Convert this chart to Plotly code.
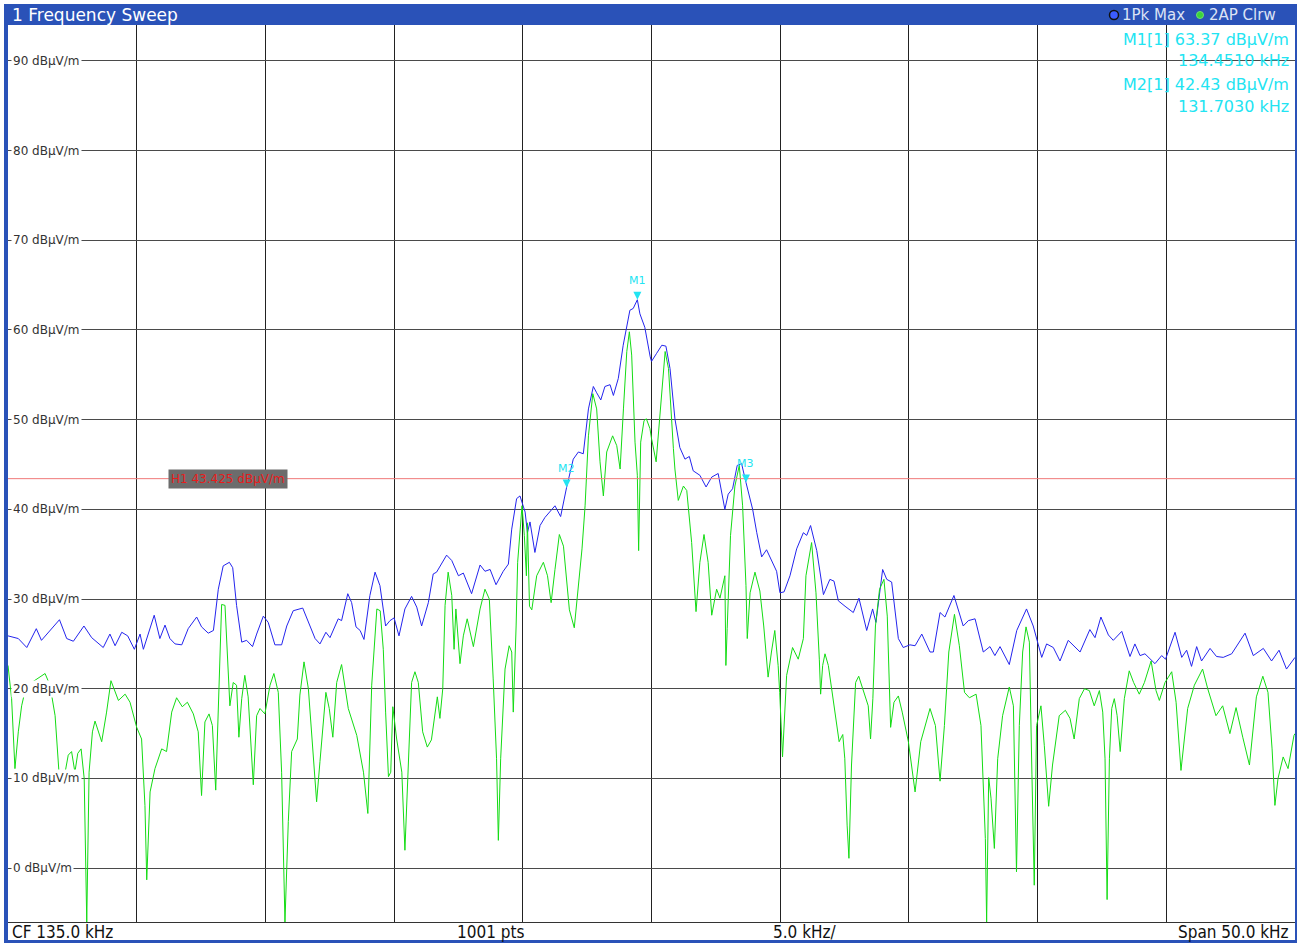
import plotly.graph_objects as go

# ---------------- data ----------------
freq_maxhold = [
    110.00, 110.40, 110.73, 111.10, 111.30, 111.57, 112.00, 112.28, 112.54, 112.95,
    113.25, 113.70, 113.96, 114.16, 114.42, 114.65, 114.91, 115.13, 115.26, 115.68,
    115.90, 116.10, 116.29, 116.49, 116.75, 117.00, 117.33, 117.52, 117.78, 117.98,
    118.17, 118.36, 118.60, 118.73, 118.88, 119.08, 119.27, 119.50, 119.66, 119.92,
    120.11, 120.37, 120.63, 120.83, 121.08, 121.45, 121.67, 121.93, 122.12, 122.35,
    122.51, 122.83, 122.96, 123.20, 123.35, 123.52, 123.68, 123.83, 124.06, 124.26,
    124.45, 124.67, 124.84, 125.00, 125.19, 125.42, 125.68, 125.88, 126.07, 126.33,
    126.52, 126.65, 127.04, 127.24, 127.50, 127.69, 128.01, 128.34, 128.53, 128.73,
    128.96, 129.24, 129.44, 129.57, 129.76, 129.89, 130.09, 130.18, 130.28, 130.47,
    130.67, 130.86, 131.25, 131.47, 131.70, 131.96, 132.16, 132.35, 132.55, 132.74,
    132.87, 133.03, 133.19, 133.39, 133.52, 133.71, 133.90, 134.16, 134.29, 134.45,
    134.55, 134.74, 134.95, 135.00, 135.20, 135.40, 135.56, 135.72, 135.91, 136.10,
    136.30, 136.47, 136.62, 136.88, 137.12, 137.34, 137.59, 137.85, 137.98, 138.15,
    138.33, 138.50, 138.67, 138.93, 139.09, 139.28, 139.47, 139.71, 139.86, 139.99,
    140.15, 140.38, 140.64, 140.90, 141.03, 141.18, 141.42, 141.68, 141.93, 142.09,
    142.26, 142.52, 142.84, 143.06, 143.36, 143.59, 143.72, 143.98, 144.14, 144.33,
    144.59, 144.78, 145.04, 145.24, 145.50, 145.82, 145.95, 146.21, 146.40, 146.75,
    147.11, 147.31, 147.57, 147.89, 148.15, 148.34, 148.54, 148.90, 149.19, 149.57,
    149.83, 150.16, 150.35, 150.61, 150.87, 151.19, 151.45, 151.65, 152.03, 152.23,
    152.46, 152.75, 152.94, 153.27, 153.59, 153.78, 153.98, 154.17, 154.56, 154.82,
    154.97, 155.34, 155.60, 155.79, 155.98, 156.18, 156.37, 156.70, 156.95, 157.21,
    157.54, 158.06, 158.38, 158.77, 159.09, 159.38, 159.67, 159.93, 160.00,
]
level_maxhold = [
    25.9, 25.6, 24.6, 26.7, 25.4, 26.3, 27.7, 25.6, 25.3, 27.0,
    25.7, 24.6, 26.1, 24.8, 26.3, 25.9, 24.4, 26.1, 24.4, 28.2,
    25.6, 27.1, 25.6, 25.0, 24.9, 26.7, 28.0, 26.9, 26.2, 26.5,
    31.1, 33.7, 34.1, 33.5, 29.3, 25.2, 25.4, 24.7, 26.1, 28.1,
    27.4, 24.9, 24.9, 27.0, 28.7, 29.0, 27.4, 25.6, 25.0, 26.3,
    25.7, 27.8, 27.6, 30.6, 29.6, 26.9, 26.5, 25.5, 30.4, 33.0,
    31.5, 27.0, 27.6, 27.9, 25.9, 28.9, 30.3, 29.1, 27.0, 29.6,
    32.8, 33.0, 34.9, 34.3, 32.6, 32.9, 30.6, 33.8, 33.1, 33.3,
    31.6, 33.1, 33.9, 37.8, 41.2, 41.5, 39.7, 37.4, 38.6, 35.2,
    38.2, 39.1, 40.4, 39.2, 42.43, 45.6, 46.4, 46.2, 51.2, 53.7,
    53.0, 52.2, 53.7, 53.9, 52.7, 54.6, 58.3, 62.2, 62.4, 63.37,
    61.8, 60.3, 57.0, 56.5, 57.4, 58.3, 58.2, 55.7, 50.1, 46.9,
    45.6, 45.9, 44.3, 43.8, 42.5, 43.6, 44.0, 40.0, 41.7, 42.3,
    44.9, 45.1, 43.0, 40.0, 37.4, 34.7, 35.5, 34.1, 33.1, 30.7,
    30.8, 32.6, 35.6, 37.4, 37.1, 38.2, 35.4, 30.5, 32.2, 32.0,
    29.8, 29.2, 28.5, 30.1, 26.5, 28.9, 27.4, 33.3, 32.2, 31.9,
    25.6, 24.6, 24.9, 24.8, 26.1, 24.1, 24.1, 28.5, 28.0, 30.4,
    27.0, 27.6, 27.8, 24.1, 24.7, 23.7, 24.7, 22.7, 26.5, 28.9,
    27.0, 23.5, 25.0, 24.6, 23.1, 25.4, 24.7, 24.1, 26.6, 25.7,
    28.0, 26.0, 25.4, 26.4, 23.6, 25.0, 23.7, 23.9, 22.8, 23.7,
    23.3, 26.3, 23.5, 24.3, 22.5, 24.7, 23.1, 24.5, 23.6, 23.5,
    23.9, 26.2, 23.7, 24.5, 23.1, 24.3, 22.2, 23.3, 23.5,
]

freq_clrw = [
    110.00, 110.14, 110.27, 110.40, 110.53, 110.73, 110.92, 111.12, 111.44, 111.63,
    111.83, 111.98, 112.15, 112.34, 112.47, 112.60, 112.71, 112.84, 112.96, 113.06,
    113.15, 113.28, 113.38, 113.64, 113.83, 114.00, 114.29, 114.55, 114.74, 115.00,
    115.19, 115.32, 115.39, 115.52, 115.71, 115.97, 116.16, 116.36, 116.55, 116.77,
    116.97, 117.20, 117.39, 117.52, 117.65, 117.81, 117.94, 118.07, 118.17, 118.30,
    118.43, 118.56, 118.62, 118.75, 118.88, 118.97, 119.08, 119.20, 119.33, 119.53,
    119.66, 119.79, 119.98, 120.18, 120.33, 120.50, 120.63, 120.76, 120.89, 121.02,
    121.24, 121.34, 121.50, 121.67, 121.84, 121.99, 122.12, 122.35, 122.48, 122.62,
    122.77, 122.96, 123.22, 123.55, 123.81, 123.98, 124.13, 124.33, 124.46, 124.58,
    124.67, 124.78, 124.87, 124.95, 125.10, 125.30, 125.42, 125.55, 125.68, 125.81,
    125.94, 126.11, 126.29, 126.45, 126.52, 126.68, 126.78, 126.89, 126.98, 127.10,
    127.24, 127.33, 127.40, 127.56, 127.69, 127.84, 128.08, 128.34, 128.53, 128.70,
    128.85, 128.98, 129.05, 129.14, 129.31, 129.47, 129.57, 129.63, 129.74, 129.80,
    129.97, 130.06, 130.14, 130.18, 130.26, 130.35, 130.54, 130.80, 130.96, 131.10,
    131.25, 131.42, 131.58, 131.81, 132.00, 132.10, 132.30, 132.42, 132.55, 132.72,
    132.87, 133.00, 133.13, 133.26, 133.49, 133.65, 133.78, 133.91, 134.04, 134.14,
    134.23, 134.36, 134.45, 134.50, 134.58, 134.71, 134.80, 134.94, 135.00, 135.18,
    135.30, 135.40, 135.53, 135.66, 135.79, 135.85, 135.91, 136.04, 136.24, 136.37,
    136.56, 136.73, 136.88, 137.04, 137.20, 137.34, 137.53, 137.66, 137.85, 137.89,
    137.94, 138.07, 138.24, 138.41, 138.54, 138.67, 138.72, 138.83, 139.02, 139.21,
    139.36, 139.53, 139.66, 139.79, 139.92, 139.98, 140.09, 140.25, 140.48, 140.70,
    140.90, 141.00, 141.22, 141.39, 141.52, 141.57, 141.65, 141.74, 141.87, 142.06,
    142.29, 142.43, 142.51, 142.60, 142.67, 142.77, 142.93, 143.05, 143.25, 143.42,
    143.51, 143.60, 143.70, 143.86, 144.03, 144.16, 144.29, 144.42, 144.59, 144.74,
    144.98, 145.24, 145.46, 145.82, 146.03, 146.21, 146.38, 146.55, 146.77, 146.96,
    147.16, 147.35, 147.61, 147.80, 147.97, 148.02, 148.10, 148.19, 148.32, 148.45,
    148.64, 148.90, 149.06, 149.18, 149.29, 149.42, 149.55, 149.68, 149.78, 149.87,
    149.96, 150.13, 150.26, 150.43, 150.58, 150.84, 151.08, 151.26, 151.42, 151.62,
    151.82, 152.01, 152.20, 152.40, 152.53, 152.62, 152.70, 152.79, 152.88, 152.98,
    153.09, 153.21, 153.37, 153.56, 153.73, 153.95, 154.15, 154.41, 154.60, 154.73,
    154.95, 155.21, 155.38, 155.57, 155.83, 156.09, 156.41, 156.61, 156.93, 157.19,
    157.47, 157.71, 157.97, 158.23, 158.50, 158.75, 158.95, 159.11, 159.22, 159.34,
    159.54, 159.73, 159.96, 160.00,
]
level_clrw = [
    22.6, 18.9, 11.1, 15.2, 18.1, 20.6, 20.7, 21.1, 21.7, 20.4,
    17.0, 10.7, 9.6, 12.6, 13.0, 10.7, 12.8, 13.3, 10.0, -6.0,
    10.7, 15.2, 16.4, 14.1, 17.4, 20.9, 18.7, 19.4, 18.5, 15.7,
    14.4, 7.0, -1.3, 8.5, 11.1, 13.3, 13.0, 17.4, 19.0, 18.0,
    18.5, 17.2, 15.2, 8.1, 16.3, 17.2, 15.9, 8.7, 18.9, 29.4,
    29.3, 21.1, 18.1, 20.7, 20.4, 14.6, 18.9, 21.5, 19.1, 9.3,
    17.0, 17.8, 17.2, 20.4, 21.7, 19.6, 10.7, -6.0, 5.2, 13.0,
    14.4, 19.3, 23.0, 20.0, 13.7, 7.4, 11.9, 19.6, 17.8, 14.6,
    20.7, 22.7, 17.8, 14.8, 10.7, 6.1, 20.4, 28.9, 28.7, 24.4,
    17.4, 10.2, 10.7, 18.0, 14.4, 10.7, 2.0, 10.7, 20.7, 21.9,
    20.7, 15.2, 13.5, 14.3, 15.6, 19.1, 16.7, 20.0, 29.3, 33.0,
    30.4, 24.4, 28.9, 22.8, 25.9, 27.8, 24.7, 28.9, 31.1, 30.0,
    21.1, 12.2, 3.1, 12.2, 22.2, 24.8, 24.1, 17.4, 27.0, 34.1,
    40.4, 37.1, 32.6, 38.5, 29.2, 28.8, 32.6, 34.1, 32.6, 29.6,
    33.3, 37.2, 35.9, 28.8, 26.8, 29.6, 35.6, 40.4, 48.2, 52.9,
    51.2, 45.3, 41.5, 46.4, 48.2, 47.1, 44.5, 51.2, 57.6, 59.8,
    57.2, 47.5, 43.8, 35.4, 47.5, 49.9, 50.1, 49.0, 47.9, 45.3,
    49.4, 52.7, 57.6, 55.7, 49.0, 46.8, 44.5, 41.0, 42.6, 42.1,
    36.3, 28.6, 34.1, 37.2, 34.1, 28.2, 31.1, 30.1, 32.6, 22.6,
    26.7, 37.1, 42.6, 44.9, 40.4, 31.5, 25.6, 30.7, 33.0, 30.9,
    27.0, 21.3, 24.1, 26.5, 22.6, 19.6, 12.4, 21.5, 24.6, 23.3,
    25.6, 32.6, 36.3, 30.7, 23.3, 19.4, 22.6, 23.9, 22.6, 18.9,
    14.1, 14.9, 12.2, 4.8, 1.1, 11.5, 20.7, 21.4, 19.6, 18.1,
    14.4, 18.9, 27.0, 31.1, 32.2, 28.1, 15.7, 18.5, 19.2, 17.4,
    14.1, 8.5, 14.1, 17.8, 15.9, 9.7, 15.9, 24.1, 28.3, 24.8,
    19.6, 19.0, 19.4, 15.9, 3.3, -6.0, 10.1, 7.8, 2.2, 12.2,
    17.0, 20.2, 18.1, -0.4, 15.9, 24.1, 26.9, 25.2, 10.4, -1.9,
    15.9, 18.1, 13.7, 6.9, 11.5, 17.0, 17.6, 16.7, 14.4, 18.9,
    20.0, 19.8, 18.1, 19.8, 17.4, 12.2, -3.5, 12.2, 17.8, 18.9,
    17.0, 13.0, 18.9, 22.0, 20.7, 19.4, 20.7, 23.1, 19.8, 18.7,
    20.7, 21.9, 18.5, 10.9, 17.8, 20.4, 22.2, 20.0, 17.0, 18.1,
    15.0, 17.9, 14.6, 11.5, 19.1, 21.4, 19.6, 13.3, 7.0, 10.0,
    12.4, 11.1, 14.8, 15.0,
]

marker_names = ["M1", "M2", "M3"]
marker_freqs = [134.451, 131.703, 138.67]
marker_levels = [63.37, 42.43, 43.0]

h1_level = 43.425
h1_label = "H1 43.425 dBµV/m"

y_tick_values = [90, 80, 70, 60, 50, 40, 30, 20, 10, 0]
y_tick_labels = [f"{v} dBµV/m" for v in y_tick_values]

title_text = "1 Frequency Sweep"
legend_labels = ["1Pk Max", "2AP Clrw"]
readout_lines = ["M1[1] 63.37 dBµV/m", "134.4510 kHz", "M2[1] 42.43 dBµV/m", "131.7030 kHz"]
bottom_labels = ["CF 135.0 kHz", "1001 pts", "5.0 kHz/", "Span 50.0 kHz"]

x_range = [110, 160]
y_range = [-6, 94]

# ---------------- styling / layout helpers ----------------
W, H = 1297, 944
ML, MR, MT, MB = 8, 2, 25, 22
PW, PH = W - ML - MR, H - MT - MB


def px(xp):
    return (xp - ML) / PW


def py(yp):
    return (H - MB - yp) / PH


FONT = "DejaVu Sans, Verdana, sans-serif"
NARROW = "Liberation Sans Narrow, DejaVu Sans Condensed, Arial Narrow, sans-serif"
FRAME_BLUE = "#2a52b8"
CYAN = "#22e4f2"
BLUE_TRACE = "#2424ee"
GREEN_TRACE = "#14dc14"

fig = go.Figure()

fig.add_trace(go.Scatter(x=freq_maxhold, y=level_maxhold, mode="lines",
                         line=dict(color=BLUE_TRACE, width=1), name="1Pk Max",
                         hoverinfo="skip"))
fig.add_trace(go.Scatter(x=freq_clrw, y=level_clrw, mode="lines",
                         line=dict(color=GREEN_TRACE, width=1), name="2AP Clrw",
                         hoverinfo="skip"))

shapes = []
annotations = []

# H1 display line
shapes.append(dict(type="line", xref="paper", yref="y", x0=0, x1=1,
                   y0=h1_level, y1=h1_level, line=dict(color="#f07878", width=1)))

# title bar and frame
shapes.append(dict(type="rect", xref="paper", yref="paper", x0=px(5), x1=px(W),
                   y0=py(25), y1=py(4), fillcolor=FRAME_BLUE, line=dict(width=0), layer="above"))
shapes.append(dict(type="rect", xref="paper", yref="paper", x0=px(4), x1=px(8),
                   y0=py(943), y1=py(4), fillcolor=FRAME_BLUE, line=dict(width=0), layer="above"))
shapes.append(dict(type="rect", xref="paper", yref="paper", x0=px(1295), x1=px(W),
                   y0=py(943), y1=py(4), fillcolor=FRAME_BLUE, line=dict(width=0), layer="above"))
shapes.append(dict(type="rect", xref="paper", yref="paper", x0=px(4), x1=px(W),
                   y0=py(943), y1=py(940), fillcolor=FRAME_BLUE, line=dict(width=0), layer="above"))

# legend dots in the title bar
shapes.append(dict(type="circle", xref="paper", yref="paper", x0=px(1109.5), x1=px(1118.5),
                   y0=py(19.5), y1=py(10.5), fillcolor="#3b5cff", line=dict(color="#101010", width=1.5),
                   layer="above"))
shapes.append(dict(type="circle", xref="paper", yref="paper", x0=px(1196.5), x1=px(1203.5),
                   y0=py(18.5), y1=py(11.5), fillcolor="#3ad43a", line=dict(color="#70e070", width=1),
                   layer="above"))

annotations.append(dict(text=title_text, xref="paper", yref="paper", x=px(10), y=py(15),
                        xanchor="left", yanchor="middle", showarrow=False,
                        font=dict(family=FONT, size=17, color="white")))
annotations.append(dict(text=legend_labels[0], xref="paper", yref="paper", x=px(1120), y=py(15),
                        xanchor="left", yanchor="middle", showarrow=False,
                        font=dict(family=FONT, size=15, color="#dce3f5")))
annotations.append(dict(text=legend_labels[1], xref="paper", yref="paper", x=px(1207), y=py(15),
                        xanchor="left", yanchor="middle", showarrow=False,
                        font=dict(family=FONT, size=15, color="#dce3f5")))

# y-axis labels inside the plot
for v, t in zip(y_tick_values, y_tick_labels):
    annotations.append(dict(text=t, xref="paper", yref="y", x=px(11), y=v,
                            xanchor="left", yanchor="middle", showarrow=False,
                            bgcolor="white", borderpad=1,
                            font=dict(family=FONT, size=12, color="#333333")))

# marker readout
for i, (line, yc) in enumerate(zip(readout_lines, [39, 61, 84, 106])):
    annotations.append(dict(text=line, xref="paper", yref="paper", x=px(1291), y=py(yc),
                            xanchor="right", yanchor="middle", showarrow=False,
                            font=dict(family=FONT, size=16, color=CYAN)))

# markers M1..M3
for name, f, lv in zip(marker_names, marker_freqs, marker_levels):
    shapes.append(dict(type="path", xref="x", yref="y", xsizemode="pixel", ysizemode="pixel",
                       xanchor=f, yanchor=lv, path="M -4,8 L 4,8 L 0,0 Z",
                       fillcolor=CYAN, line=dict(width=0), layer="above"))
    annotations.append(dict(text=name, x=f, y=lv, xref="x", yref="y", showarrow=False,
                            xanchor="center", yanchor="middle", yshift=19,
                            font=dict(family=FONT, size=11, color=CYAN)))

# H1 label
annotations.append(dict(text=h1_label, x=116.22, y=h1_level, xref="x", yref="y",
                        xanchor="left", yanchor="middle", showarrow=False,
                        bgcolor="#6c6c6c", borderpad=2,
                        font=dict(family=FONT, size=12, color="#e81c1c")))

# bottom status bar
bottom_pos = [(10, "left"), (490, "center"), (771, "left"), (1291, "right")]
for t, (xp, anc) in zip(bottom_labels, bottom_pos):
    annotations.append(dict(text=t, xref="paper", yref="paper", x=px(xp), y=py(932),
                            xanchor=anc, yanchor="middle", showarrow=False,
                            font=dict(family=NARROW, size=17, color="#111111")))

fig.update_layout(
    width=W, height=H,
    margin=dict(l=ML, r=MR, t=MT, b=MB, pad=0),
    paper_bgcolor="white", plot_bgcolor="white",
    showlegend=False,
    shapes=shapes, annotations=annotations,
    xaxis=dict(range=x_range, dtick=5, tick0=110, showgrid=True, gridcolor="#222222",
               gridwidth=1, showticklabels=False, ticks="", zeroline=False,
               showline=True, linecolor="#333333", linewidth=1, mirror=True, fixedrange=True),
    yaxis=dict(range=y_range, dtick=10, tick0=0, showgrid=True, gridcolor="#4a4a4a",
               gridwidth=1, showticklabels=False, ticks="", zeroline=False,
               showline=True, linecolor="#333333", linewidth=1, mirror=True, fixedrange=True),
)

fig.write_html("out.html", config={"displayModeBar": False},
               post_script="document.body.style.margin='0';document.body.style.overflow='hidden';")
